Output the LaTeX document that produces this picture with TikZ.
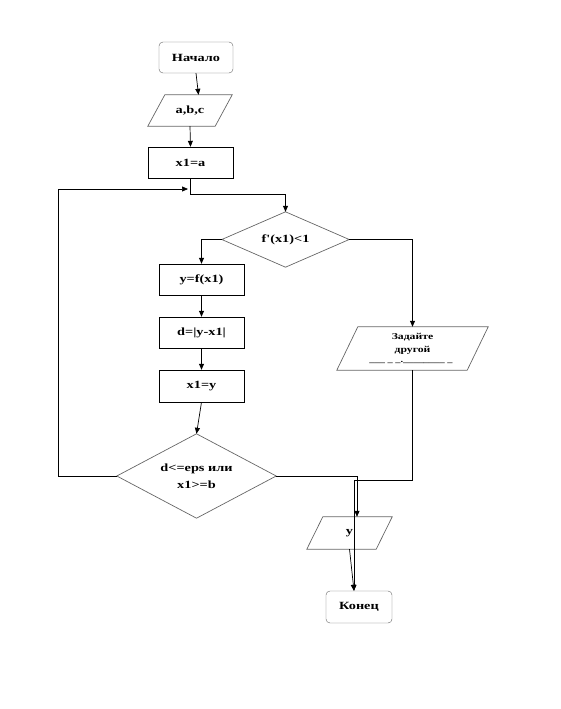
\documentclass[tikz,border=0pt]{standalone}
\usepackage{fontspec}
\newfontfamily\lbl[FakeStretch=1.3]{Liberation Serif}
\usetikzlibrary{arrows.meta,shapes.geometric,calc}
\begin{document}
\begin{tikzpicture}[x=1pt,y=-1pt,
  every node/.style={font=\lbl\bfseries\fontsize{11}{13}\selectfont, inner sep=0pt},
  term/.style={draw=black!60, rounded corners=4pt, minimum width=74pt, minimum height=31pt},
  proc/.style={draw=black, minimum width=85pt, minimum height=31pt},
  iobox/.style={minimum height=31pt},
  conn/.style={draw=black, line width=0.7pt},
  arr/.style={conn, -{Triangle[length=6pt,width=5pt]}},
  para/.style={draw=black!60, line width=0.7pt}
]
\useasboundingbox (0,0) rectangle (561,709);

\node[term] (start) at (196,57.5) {Начало};
\node[iobox, minimum width=84pt] (abc) at (190,110.5) {a,b,c};
\draw[para] ($(abc.north west)+(17,0)$) -- (abc.north east) -- ($(abc.south east)+(-17,0)$) -- (abc.south west) -- cycle;
\node[proc] (x1a) at (190.5,162.5) {x1=a};
\node[minimum width=127pt, minimum height=55pt] (d1) at (285.5,239.5) {f'(x1)<1};
\draw[para] (d1.north) -- (d1.east) -- (d1.south) -- (d1.west) -- cycle;
\node[proc] (yf) at (201.5,279.5) {y=f(x1)};
\node[proc] (dd) at (201.5,332.5) {d=|y-x1|};
\node[proc, minimum height=32pt] (x1y) at (201.5,386) {x1=y};
\node[minimum width=159pt, minimum height=84pt, align=center] (d2) at (196.5,476) {d<=eps или\\[4pt]x1>=b};
\draw[para] (d2.north) -- (d2.east) -- (d2.south) -- (d2.west) -- cycle;
\node[minimum width=151pt, minimum height=43pt] (zad) at (412.5,348.5) {};
\node[align=center, font=\lbl\bfseries\fontsize{9}{13}\selectfont] (zadtxt) at (412.5,344) {Задайте\\другой};
\node[font=\lbl\bfseries\fontsize{8}{9}\selectfont] (zaddash) at (411,362.5) {\_\_\_ \_ \_.\_\_\_\_\_\_\_\_ \_};
\draw[para] ($(zad.north west)+(21,0)$) -- (zad.north east) -- ($(zad.south east)+(-21,0)$) -- (zad.south west) -- cycle;
\node[iobox, minimum width=85pt, minimum height=32pt] (yout) at (349.5,533) {у};
\draw[para] ($(yout.north west)+(16,0)$) -- (yout.north east) -- ($(yout.south east)+(-16,0)$) -- (yout.south west) -- cycle;
\node[term, minimum width=66pt, minimum height=32pt] (end) at (359,607) {Конец};

\coordinate (abctop) at ($(abc.north)+(8.5,0)$);
\coordinate (j) at (240,194);
\coordinate (merge) at (188,189);
\coordinate (loopL) at (58,0);
\coordinate (r2) at (357,0);
\coordinate (zj) at (0,480);
\coordinate (endin) at ($(end.north)+(-5,0)$);

\draw[arr] (start.south) -- (abctop);
\draw[arr] (abc.south) -- (x1a.north);
\draw[arr] (x1a.south) -- (x1a.south |- j) -- (d1.north |- j) -- (d1.north);
\draw[arr] (d1.west) -| (yf.north);
\draw[arr] (d1.east) -| (zad.north);
\draw[arr] (yf.south) -- (dd.north);
\draw[arr] (dd.south) -- (x1y.north);
\draw[arr] (x1y.south) -- (d2.north);
\draw[arr] (d2.west) -- (loopL |- d2.west) -- (loopL |- merge) -- (merge);
\draw[arr] (d2.east) -- (r2 |- d2.east) -- (r2 |- yout.north);
\draw[arr] (zad.south) -- (zad.south |- zj) -- (endin |- zj) -- (endin);
\draw[arr] (yout.south) -- (endin);
\end{tikzpicture}
\end{document}
